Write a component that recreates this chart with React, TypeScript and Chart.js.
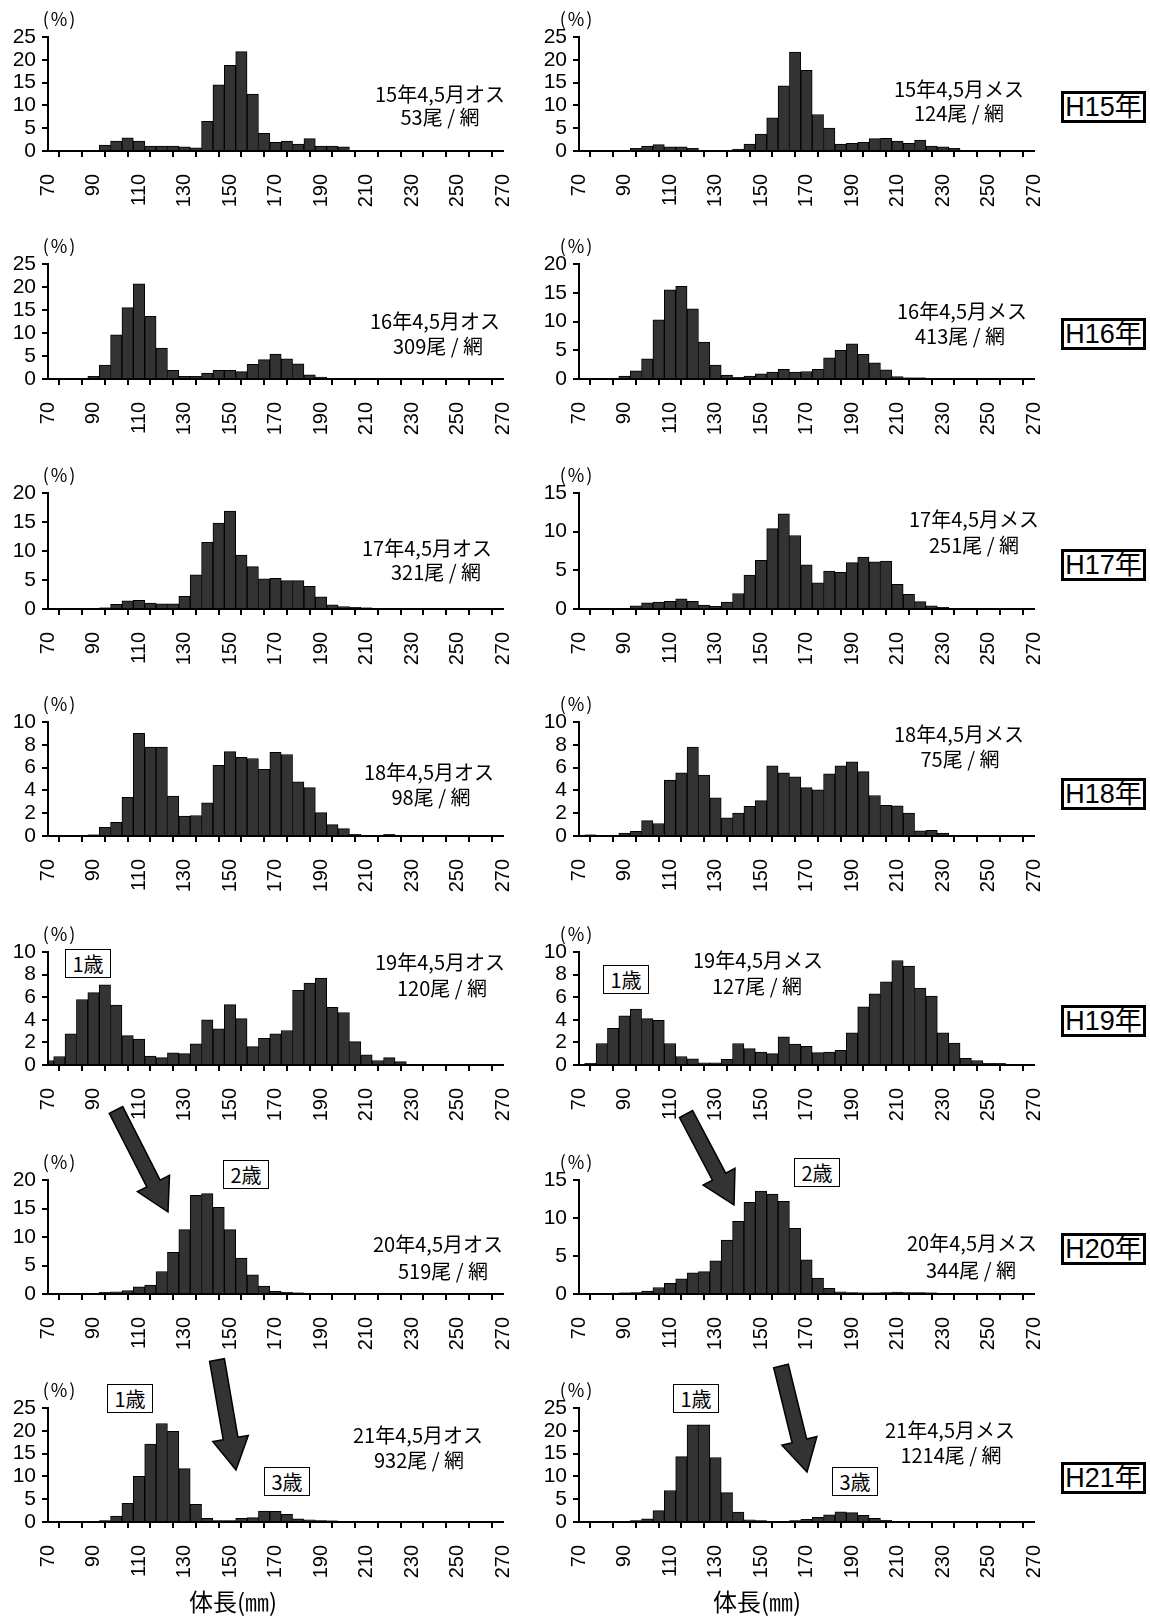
import React, { useEffect, useRef } from "react";
import { Chart, registerables } from "chart.js";

Chart.register(...registerables);
Chart.defaults.font.family = "'Liberation Sans', Arial, sans-serif";

// ---------- data ----------
const LENGTH_BINS = [70, 75, 80, 85, 90, 95, 100, 105, 110, 115, 120, 125, 130, 135, 140, 145, 150, 155, 160, 165, 170, 175, 180, 185, 190, 195, 200, 205, 210, 215, 220, 225, 230, 235, 240, 245, 250, 255, 260, 265, 270];
const X_TICKS = [70, 80, 90, 100, 110, 120, 130, 140, 150, 160, 170, 180, 190, 200, 210, 220, 230, 240, 250, 260, 270];
const X_TICK_LABELS = [70, 90, 110, 130, 150, 170, 190, 210, 230, 250, 270];

const H15_MALE = [0, 0, 0, 0, 0, 1.3, 2.2, 2.9, 2.2, 1.1, 1.1, 1.1, 0.9, 0.7, 6.5, 14.5, 18.8, 21.8, 12.5, 3.9, 1.9, 2.2, 1.5, 2.7, 1.1, 1.1, 0.9, 0, 0, 0, 0, 0, 0, 0, 0, 0, 0, 0, 0, 0, 0];
const H15_FEMALE = [0, 0, 0, 0, 0, 0.6, 1.1, 1.4, 0.9, 0.9, 0.6, 0, 0, 0, 0.4, 1.5, 3.7, 7.3, 14.3, 21.7, 17.7, 8.0, 5.0, 1.5, 1.7, 1.9, 2.7, 2.8, 2.2, 1.7, 2.4, 1.1, 0.9, 0.6, 0, 0, 0, 0, 0, 0, 0];
const H16_MALE = [0, 0, 0.1, 0.2, 0.6, 3.0, 9.6, 15.5, 20.7, 13.6, 6.7, 1.9, 0.6, 0.6, 1.3, 1.9, 1.9, 1.6, 3.2, 4.2, 5.4, 4.4, 3.3, 0.9, 0.4, 0.1, 0.1, 0.1, 0.1, 0.2, 0.05, 0, 0, 0, 0, 0, 0, 0, 0, 0, 0];
const H16_FEMALE = [0, 0, 0, 0, 0.5, 1.4, 3.5, 10.3, 15.5, 16.1, 12.2, 6.4, 2.4, 0.7, 0.3, 0.5, 0.9, 1.2, 1.7, 1.2, 1.3, 1.7, 3.7, 5.0, 6.1, 4.3, 2.8, 1.6, 0.4, 0.2, 0.2, 0.1, 0.1, 0.1, 0.05, 0, 0, 0, 0, 0, 0];
const H17_MALE = [0, 0, 0.1, 0.1, 0.1, 0.2, 0.8, 1.4, 1.5, 1.0, 0.9, 0.9, 2.2, 5.9, 11.5, 14.8, 16.9, 9.3, 7.3, 5.2, 5.3, 4.9, 4.9, 3.9, 2.1, 0.7, 0.4, 0.3, 0.2, 0.1, 0, 0, 0, 0, 0, 0, 0, 0, 0, 0, 0];
const H17_FEMALE = [0, 0, 0.1, 0.1, 0.1, 0.4, 0.8, 0.9, 1.0, 1.3, 1.0, 0.5, 0.35, 0.9, 2.0, 4.4, 6.3, 10.4, 12.3, 9.5, 5.7, 3.4, 4.9, 4.75, 6.0, 6.7, 6.1, 6.2, 3.2, 1.9, 0.95, 0.4, 0.2, 0.1, 0, 0, 0, 0, 0, 0, 0];
const H18_MALE = [0, 0, 0, 0, 0.1, 0.75, 1.2, 3.4, 9.0, 7.8, 7.8, 3.5, 1.75, 1.8, 2.9, 6.2, 7.4, 6.9, 6.8, 5.85, 7.35, 7.15, 4.75, 4.25, 2.05, 1.0, 0.65, 0.15, 0, 0, 0.15, 0, 0, 0, 0, 0, 0, 0, 0, 0, 0];
const H18_FEMALE = [0, 0.1, 0, 0, 0.25, 0.4, 1.35, 1.1, 4.9, 5.55, 7.8, 5.35, 3.35, 1.6, 2.0, 2.6, 3.1, 6.15, 5.55, 5.2, 4.25, 4.05, 5.45, 6.15, 6.5, 5.65, 3.55, 2.7, 2.65, 2.0, 0.45, 0.5, 0.25, 0, 0, 0, 0, 0, 0, 0, 0];
const H19_MALE = [0.4, 0.75, 2.75, 5.8, 6.4, 7.1, 5.3, 2.6, 2.3, 0.8, 0.65, 1.07, 1.0, 1.87, 4.0, 3.2, 5.35, 4.1, 1.63, 2.37, 2.75, 3.05, 6.6, 7.25, 7.7, 5.1, 4.65, 2.07, 0.9, 0.4, 0.65, 0.3, 0, 0, 0, 0, 0, 0, 0, 0, 0];
const H19_FEMALE = [0, 0.15, 1.9, 3.25, 4.35, 4.95, 4.1, 3.95, 1.9, 0.75, 0.55, 0.2, 0.2, 0.5, 1.9, 1.45, 1.15, 1.0, 2.5, 1.85, 1.65, 1.1, 1.15, 1.3, 2.85, 5.15, 6.3, 7.35, 9.25, 8.75, 6.8, 6.1, 2.85, 1.95, 0.6, 0.4, 0.15, 0.15, 0.05, 0, 0];
const H20_MALE = [0, 0, 0, 0.05, 0.1, 0.3, 0.4, 0.6, 1.25, 1.55, 3.95, 7.3, 11.3, 17.3, 17.6, 15.2, 11.3, 6.3, 3.35, 1.4, 0.45, 0.3, 0.2, 0.15, 0.1, 0.1, 0.15, 0.05, 0.05, 0, 0, 0, 0, 0, 0, 0, 0, 0, 0, 0, 0];
const H20_FEMALE = [0, 0.05, 0.05, 0.05, 0.15, 0.2, 0.4, 0.85, 1.4, 2.0, 2.8, 2.95, 4.35, 7.1, 9.55, 12.05, 13.55, 13.15, 12.2, 8.65, 4.5, 2.1, 0.75, 0.3, 0.2, 0.15, 0.15, 0.2, 0.25, 0.2, 0.2, 0.15, 0.1, 0.1, 0.05, 0, 0, 0, 0, 0, 0];
const H21_MALE = [0, 0, 0, 0, 0, 0.3, 1.3, 4.1, 10.0, 17.1, 21.6, 19.9, 11.7, 3.9, 0.8, 0.3, 0.3, 0.8, 0.95, 2.4, 2.35, 1.7, 0.7, 0.45, 0.3, 0.25, 0.2, 0.1, 0.05, 0, 0, 0, 0, 0, 0, 0, 0, 0, 0, 0, 0];
const H21_FEMALE = [0, 0, 0, 0, 0.1, 0.3, 0.7, 2.5, 6.9, 14.35, 21.3, 21.3, 14.15, 6.45, 2.2, 0.45, 0.3, 0.1, 0.15, 0.3, 0.6, 1.05, 1.55, 2.25, 2.05, 1.45, 0.8, 0.35, 0.1, 0.05, 0, 0, 0, 0, 0, 0, 0, 0, 0, 0, 0];

const SERIES = [H15_MALE, H15_FEMALE, H16_MALE, H16_FEMALE, H17_MALE, H17_FEMALE, H18_MALE, H18_FEMALE, H19_MALE, H19_FEMALE, H20_MALE, H20_FEMALE, H21_MALE, H21_FEMALE];
const Y_MAX = [25, 25, 25, 20, 20, 15, 10, 10, 10, 10, 20, 15, 25, 25];
const Y_STEP = [5, 5, 5, 5, 5, 5, 2, 2, 2, 2, 5, 5, 5, 5];

const PANEL_TITLES = ["15年4,5月オス", "15年4,5月メス", "16年4,5月オス", "16年4,5月メス", "17年4,5月オス", "17年4,5月メス", "18年4,5月オス", "18年4,5月メス", "19年4,5月オス", "19年4,5月メス", "20年4,5月オス", "20年4,5月メス", "21年4,5月オス", "21年4,5月メス"];
const PANEL_COUNTS = ["53尾 / 網", "124尾 / 網", "309尾 / 網", "413尾 / 網", "321尾 / 網", "251尾 / 網", "98尾 / 網", "75尾 / 網", "120尾 / 網", "127尾 / 網", "519尾 / 網", "344尾 / 網", "932尾 / 網", "1214尾 / 網"];
const YEAR_LABELS = ["H15年", "H16年", "H17年", "H18年", "H19年", "H20年", "H21年"];
const AGE_LABELS = ["1歳", "1歳", "2歳", "2歳", "1歳", "3歳", "1歳", "3歳"];
const AXIS_UNIT = "(%)";
const X_TITLE = "体長(㎜)";

// ---------- layout ----------
const COL_LEFT = [48, 579];
const PLOT_W = 455;
const ROW_TOP = [37, 264, 493, 722, 952, 1180, 1408];
const ROW_BOTTOM = [151, 379, 609, 836, 1065, 1294, 1522];
const YW = 46, PAD_T = 14, PAD_R = 14, XH = 64;

const TITLE_POS = [
  [440, 94], [959, 89], [435, 321], [962, 311], [427, 548], [974, 519], [429, 772],
  [959, 734], [440, 962], [758, 960], [438, 1244], [972, 1243], [418, 1435], [950, 1430],
];
const COUNT_POS = [
  [440, 117], [959, 113], [438, 346], [960, 336], [436, 572], [974, 545], [431, 797],
  [960, 759], [442, 988], [757, 986], [443, 1271], [971, 1270], [419, 1460], [951, 1455],
];
const YEAR_BOX_TOP = [91, 318, 549, 778, 1005, 1233, 1462];
const AGE_BOX = [
  [65, 949], [603, 965], [223, 1160], [794, 1158], [107, 1384], [264, 1467], [673, 1384], [832, 1467],
];
const ARROWS = [
  [116, 1110, 168, 1212],
  [686, 1114, 734, 1205],
  [217, 1360, 236, 1470],
  [781, 1366, 807, 1472],
];

const CJK = "'Noto Sans CJK JP', 'Noto Sans', sans-serif";

function Panel({ idx }: { idx: number }) {
  const ref = useRef<HTMLCanvasElement>(null);
  const col = idx % 2;
  const row = Math.floor(idx / 2);
  const top = ROW_TOP[row];
  const plotH = ROW_BOTTOM[row] - top;
  const W = YW + PLOT_W + PAD_R;
  const H = PAD_T + plotH + XH;

  useEffect(() => {
    const values = SERIES[idx];
    const chart = new Chart(ref.current as HTMLCanvasElement, {
      type: "bar",
      data: {
        datasets: [
          {
            data: LENGTH_BINS.map((x, i) => ({ x, y: values[i] })),
            backgroundColor: "#333333",
            borderColor: "#000000",
            borderWidth: 1,
            barPercentage: 1,
            categoryPercentage: 1,
            clip: 0,
          } as any,
        ],
      },
      options: {
        animation: false,
        responsive: false,
        maintainAspectRatio: false,
        events: [],
        layout: { padding: { top: PAD_T, right: PAD_R, left: 0, bottom: 0 } },
        plugins: { legend: { display: false }, tooltip: { enabled: false } },
        scales: {
          x: {
            type: "linear",
            min: 70,
            max: 270,
            offset: false,
            afterBuildTicks: (s: any) => {
              s.ticks = X_TICKS.map((value) => ({ value }));
            },
            afterFit: (s: any) => {
              s.height = XH;
              s.paddingLeft = 0;
              s.paddingRight = 0;
            },
            ticks: {
              autoSkip: false,
              minRotation: 90,
              maxRotation: 90,
              padding: 17,
              color: "#000",
              font: { size: 20 },
              callback: (v: any) => (X_TICK_LABELS.includes(Number(v)) ? String(v) : ""),
            },
            grid: { display: true, drawOnChartArea: false, drawTicks: true, tickLength: 6, color: "#000", lineWidth: 2 },
            border: { display: true, color: "#000", width: 2, z: 1 },
          } as any,
          y: {
            min: 0,
            max: Y_MAX[idx],
            afterFit: (s: any) => {
              s.width = YW;
              s.paddingTop = 0;
              s.paddingBottom = 0;
            },
            ticks: { stepSize: Y_STEP[idx], autoSkip: false, padding: 6, color: "#000", font: { size: 21 } },
            grid: { display: true, drawOnChartArea: false, drawTicks: true, tickLength: 6, color: "#000", lineWidth: 2 },
            border: { display: true, color: "#000", width: 2, z: 1 },
          } as any,
        },
      },
    });
    return () => chart.destroy();
  }, [idx]);

  return (
    <canvas
      ref={ref}
      width={W}
      height={H}
      style={{ position: "absolute", left: COL_LEFT[col] - YW, top: top - PAD_T, width: W, height: H }}
    />
  );
}

function Txt({ x, y, size, children, family = CJK, spacing = 0 }: any) {
  return (
    <div
      style={{
        position: "absolute",
        left: x,
        top: y,
        transform: "translate(-50%, -50%)",
        fontSize: size,
        fontFamily: family,
        lineHeight: 1,
        whiteSpace: "nowrap",
        color: "#000",
        letterSpacing: spacing,
      }}
    >
      {children}
    </div>
  );
}

function Box({ left, top, width, height, bw, size, children, family = CJK }: any) {
  return (
    <div
      style={{
        position: "absolute",
        left,
        top,
        width,
        height,
        boxSizing: "border-box",
        border: `${bw}px solid #000`,
        background: "#fff",
        display: "flex",
        alignItems: "center",
        justifyContent: "center",
        fontSize: size,
        fontFamily: family,
        lineHeight: 1,
        whiteSpace: "nowrap",
        color: "#000",
      }}
    >
      {children}
    </div>
  );
}

function arrowPoints(x1: number, y1: number, x2: number, y2: number, sw: number, hw: number, hl: number) {
  const dx = x2 - x1, dy = y2 - y1;
  const L = Math.hypot(dx, dy);
  const ux = dx / L, uy = dy / L;
  const px = -uy, py = ux;
  const bx = x2 - ux * hl, by = y2 - uy * hl;
  const pts = [
    [x1 + (px * sw) / 2, y1 + (py * sw) / 2],
    [bx + (px * sw) / 2, by + (py * sw) / 2],
    [bx + (px * hw) / 2, by + (py * hw) / 2],
    [x2, y2],
    [bx - (px * hw) / 2, by - (py * hw) / 2],
    [bx - (px * sw) / 2, by - (py * sw) / 2],
    [x1 - (px * sw) / 2, y1 - (py * sw) / 2],
  ];
  return pts.map((p) => `${p[0].toFixed(1)},${p[1].toFixed(1)}`).join(" ");
}

export default function App() {
  return (
    <div style={{ position: "absolute", left: 0, top: 0, width: 1150, height: 1616, background: "#fff", overflow: "hidden" }}>
      {SERIES.map((_, i) => (
        <Panel key={i} idx={i} />
      ))}
      {ROW_TOP.map((t, r) => (
        <React.Fragment key={"u" + r}>
          <Txt x={60} y={t - 19} size={18} spacing={2}>{AXIS_UNIT}</Txt>
          <Txt x={577} y={t - 19} size={18} spacing={2}>{AXIS_UNIT}</Txt>
        </React.Fragment>
      ))}
      {PANEL_TITLES.map((s, i) => (
        <Txt key={"t" + i} x={TITLE_POS[i][0]} y={TITLE_POS[i][1]} size={20}>{s}</Txt>
      ))}
      {PANEL_COUNTS.map((s, i) => (
        <Txt key={"c" + i} x={COUNT_POS[i][0]} y={COUNT_POS[i][1]} size={20}>{s}</Txt>
      ))}
      {YEAR_LABELS.map((s, i) => (
        <Box key={"y" + i} left={1061} top={YEAR_BOX_TOP[i]} width={85} height={32} bw={3} size={27} family={"'Liberation Sans', " + CJK}>
          {s}
        </Box>
      ))}
      {AGE_LABELS.map((s, i) => (
        <Box key={"a" + i} left={AGE_BOX[i][0]} top={AGE_BOX[i][1]} width={46} height={29} bw={1.5} size={20}>
          {s}
        </Box>
      ))}
      <Txt x={233} y={1601} size={24}>{X_TITLE}</Txt>
      <Txt x={757} y={1601} size={24}>{X_TITLE}</Txt>
      <svg width={1150} height={1616} style={{ position: "absolute", left: 0, top: 0, pointerEvents: "none" }}>
        {ARROWS.map((a, i) => (
          <polygon key={i} points={arrowPoints(a[0], a[1], a[2], a[3], 15, 36, 32)} fill="#333333" stroke="#000" strokeWidth={1.5} strokeLinejoin="miter" />
        ))}
      </svg>
    </div>
  );
}
